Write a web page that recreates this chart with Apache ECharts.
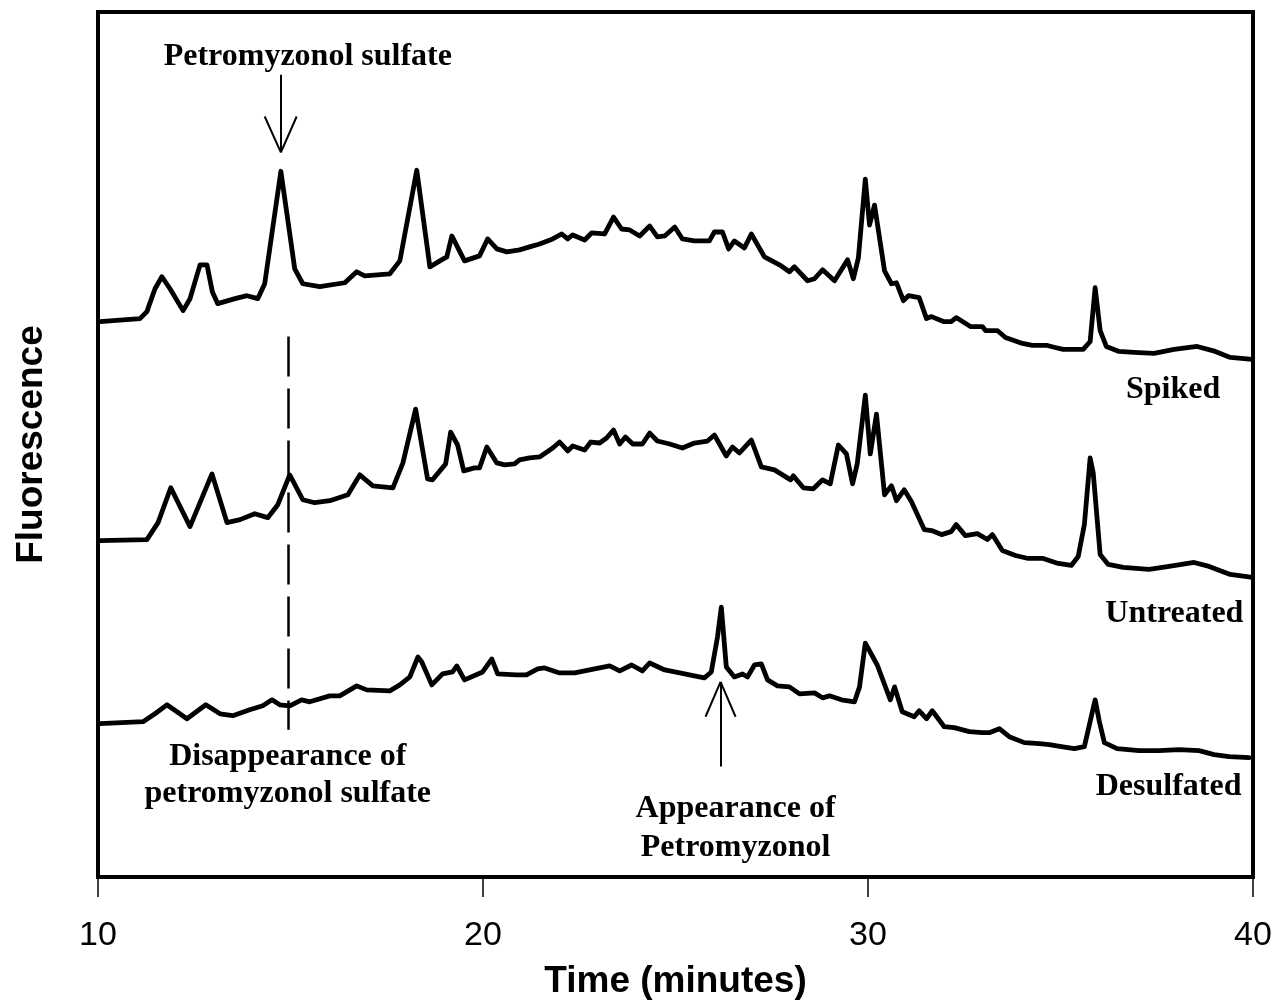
<!DOCTYPE html>
<html>
<head>
<meta charset="utf-8">
<script src="https://cdn.jsdelivr.net/npm/echarts@6/dist/echarts.min.js"></script>
<style>
  html, body { margin: 0; padding: 0; background: #fff; }
  #chart { width: 1283px; height: 1005px; }
</style>
</head>
<body>
<div id="chart"></div>
<script>
// ---------------- DATA (time in minutes, fluorescence in arbitrary units) ----------------
const xTicks = [10, 20, 30, 40];

const spiked = [
  [10.05,558],[11.09,561],[11.27,568],[11.48,591],[11.66,603],[11.87,591],[12.21,569],[12.39,581],
  [12.65,615],[12.83,615],[12.97,588],[13.11,576],[13.56,581],
  [13.87,584],[14.15,581],[14.33,596],[14.75,709],[15.11,611],[15.32,596],[15.76,593],[16.41,597],
  [16.72,608],[16.93,604],[17.58,606],[17.84,619],[18.28,710],[18.62,613],[18.88,619],[19.06,623],
  [19.19,644],[19.52,619],[19.91,624],[20.12,641],[20.36,631],[20.62,628],[20.95,630],[21.21,633],
  [21.47,636],[21.81,641],[22.04,646],[22.20,641],[22.33,645],[22.64,640],[22.82,647],[23.16,646],
  [23.39,663],[23.60,651],[23.81,650],[24.07,644],[24.33,654],[24.53,643],[24.72,644],[24.98,653],
  [25.18,641],[25.49,639],[25.88,639],[26.01,648],[26.22,648],[26.38,631],[26.53,639],[26.79,632],
  [26.97,646],[27.31,623],[27.70,615],[27.96,608],[28.09,613],[28.43,599],[28.61,601],[28.82,610],
  [29.13,599],[29.47,620],[29.62,601],[29.75,622],[29.93,701],[30.04,655],[30.17,675],[30.43,609],
  [30.61,596],[30.74,597],[30.92,579],[31.05,584],[31.33,582],[31.52,561],[31.65,563],[31.96,558],
  [32.16,558],[32.29,562],[32.66,553],[32.97,553],[33.05,549],[33.36,549],[33.57,542],[34.01,536],
  [34.27,534],[34.66,534],[34.86,532],[35.07,530],[35.59,530],[35.77,538],[35.90,592],[36.03,549],
  [36.19,533],[36.52,528],[36.91,527],[37.43,526],[37.95,530],[38.55,533],[39.02,528],[39.41,522],
  [39.98,520]
];

const untreated = [
  [10.05,338],[11.27,339],[11.56,356],[11.89,391],[12.39,352],[12.96,405],[13.35,356],[13.69,359],
  [14.07,365],[14.41,361],[14.67,374],[14.98,404],[15.32,379],[15.63,376],[16.02,378],[16.49,384],
  [16.80,404],[17.14,393],[17.66,391],[17.92,416],[18.25,470],[18.56,400],[18.69,399],[18.88,408],
  [19.03,415],[19.16,447],[19.34,434],[19.50,408],[19.78,411],[19.91,411],[20.10,432],[20.36,416],
  [20.56,414],[20.82,415],[20.95,419],[21.21,421],[21.47,422],[21.81,431],[21.99,437],[22.20,428],
  [22.33,433],[22.64,429],[22.80,437],[23.03,436],[23.21,441],[23.39,449],[23.55,435],[23.70,442],
  [23.89,435],[24.14,435],[24.33,446],[24.53,438],[24.85,435],[25.18,431],[25.49,436],[25.83,438],
  [26.01,444],[26.32,423],[26.48,432],[26.66,426],[26.97,439],[27.23,412],[27.57,409],[27.99,399],
  [28.06,403],[28.32,391],[28.58,390],[28.82,399],[29.02,395],[29.23,434],[29.44,425],[29.60,395],
  [29.72,415],[29.93,484],[30.06,425],[30.22,465],[30.43,384],[30.61,393],[30.74,378],[30.94,389],
  [31.13,377],[31.46,349],[31.65,348],[31.91,344],[32.16,347],[32.29,354],[32.53,343],[32.84,345],
  [33.10,339],[33.23,344],[33.49,328],[33.83,323],[34.16,320],[34.55,320],[34.94,315],[35.28,313],
  [35.46,322],[35.62,354],[35.77,421],[35.85,406],[36.03,324],[36.24,314],[36.63,311],[37.30,309],
  [37.82,312],[38.47,316],[38.86,312],[39.41,304],[39.98,301]
];

const desulfated = [
  [10.05,154],[11.17,156],[11.48,164],[11.79,173],[12.31,159],[12.80,173],[13.17,164],[13.50,162],
  [13.94,168],[14.28,172],[14.52,178],[14.72,173],[14.98,172],[15.29,178],[15.50,176],[16.02,182],
  [16.28,182],[16.72,192],[16.98,188],[17.58,187],[17.84,193],[18.10,201],[18.31,221],[18.41,216],
  [18.67,193],[18.95,204],[19.21,206],[19.32,212],[19.52,198],[19.99,206],[20.23,219],[20.38,204],
  [20.87,203],[21.13,203],[21.42,209],[21.60,210],[21.99,205],[22.38,205],[22.77,208],[22.90,209],
  [23.29,212],[23.55,207],[23.86,213],[24.14,207],[24.33,215],[24.72,208],[25.11,205],[25.49,202],
  [25.75,200],[25.93,206],[26.09,241],[26.19,271],[26.32,211],[26.53,201],[26.74,204],[26.87,201],
  [27.05,213],[27.23,214],[27.39,198],[27.65,192],[27.96,191],[28.22,184],[28.61,185],[28.82,180],
  [29.00,182],[29.31,178],[29.65,176],[29.78,191],[29.93,235],[30.24,213],[30.58,178],[30.69,191],
  [30.89,166],[31.20,161],[31.33,167],[31.52,159],[31.67,167],[31.98,151],[32.24,150],[32.63,146],
  [32.97,145],[33.15,145],[33.41,149],[33.67,141],[34.06,135],[34.45,134],[34.71,133],[35.02,131],
  [35.36,129],[35.62,131],[35.90,178],[36.01,156],[36.14,135],[36.47,129],[37.04,127],[37.56,127],
  [38.08,128],[38.60,127],[38.99,123],[39.38,121],[39.90,120]
];

// annotation anchors in data coordinates
const dashedLine = [[14.93,543],[14.93,148]];
const downArrow = { shaft: [[14.75,806],[14.75,728]], left: [14.33,764], right: [15.16,764] };
const upArrow   = { shaft: [[26.17,111],[26.17,196]], left: [25.78,161], right: [26.56,161] };

const annotations = [
  { text: 'Petromyzonol sulfate', at: [15.45,824], align: 'center' },
  { text: 'Disappearance of',     at: [14.93,121], align: 'center' },
  { text: 'petromyzonol sulfate', at: [14.93,84],  align: 'center' },
  { text: 'Appearance of',        at: [26.56,69],  align: 'center' },
  { text: 'Petromyzonol',         at: [26.56,29],  align: 'center' },
  { text: 'Spiked',               at: [39.15,490], align: 'right' },
  { text: 'Untreated',            at: [39.75,264], align: 'right' },
  { text: 'Desulfated',           at: [39.70,91],  align: 'right' }
];

// ---------------- CHART ----------------
const chart = echarts.init(document.getElementById('chart'), null, { renderer: 'canvas' });
const serif = '"Liberation Serif","Times New Roman",serif';
const sans = '"Liberation Sans",Arial,sans-serif';

function traceSeries(name, data) {
  return {
    name, type: 'line', data, showSymbol: false, symbol: 'none', smooth: false,
    lineStyle: { color: '#000', width: 4.8, join: 'round', cap: 'round' },
    silent: true, animation: false, z: 3
  };
}

const annotLines = {
  type: 'line', data: [], silent: true, animation: false,
  markLine: {
    symbol: ['none','none'], silent: true, animation: false,
    label: { show: false },
    lineStyle: { color: '#000', width: 2, type: 'solid' },
    data: [
      [{ coord: dashedLine[0], lineStyle: { type: [40,12], width: 2.5 } }, { coord: dashedLine[1] }],
      [{ coord: downArrow.shaft[0] }, { coord: downArrow.shaft[1] }],
      [{ coord: downArrow.left }, { coord: downArrow.shaft[1] }],
      [{ coord: downArrow.right }, { coord: downArrow.shaft[1] }],
      [{ coord: upArrow.shaft[0] }, { coord: upArrow.shaft[1] }],
      [{ coord: upArrow.left }, { coord: upArrow.shaft[1] }],
      [{ coord: upArrow.right }, { coord: upArrow.shaft[1] }]
    ]
  }
};

chart.setOption({
  animation: false,
  backgroundColor: '#fff',
  grid: { left: 98, right: 30, top: 12, bottom: 124, show: true, borderColor: '#000', borderWidth: 4 },
  xAxis: {
    type: 'value', min: 10, max: 40, interval: 10,
    name: 'Time (minutes)', nameLocation: 'middle', nameGap: 86,
    nameTextStyle: { fontFamily: sans, fontWeight: 'bold', fontSize: 37, color: '#000' },
    axisLine: { show: true, lineStyle: { color: '#000', width: 4 } },
    axisTick: { show: true, length: 20, lineStyle: { color: '#000', width: 1.5 } },
    axisLabel: { fontFamily: sans, fontSize: 34, color: '#000', margin: 42 },
    splitLine: { show: false }
  },
  yAxis: {
    type: 'value', min: 0, max: 869,
    name: 'Fluorescence', nameLocation: 'middle', nameGap: 48, nameRotate: 90,
    nameTextStyle: { fontFamily: sans, fontWeight: 'bold', fontSize: 37, color: '#000' },
    axisLine: { show: true, lineStyle: { color: '#000', width: 4 } },
    axisTick: { show: false }, axisLabel: { show: false }, splitLine: { show: false }
  },
  series: [
    traceSeries('Spiked', spiked),
    traceSeries('Untreated', untreated),
    traceSeries('Desulfated', desulfated),
    annotLines
  ]
});

const graphics = annotations.map(a => {
  const p = chart.convertToPixel({ gridIndex: 0 }, a.at);
  return {
    type: 'text', x: p[0], y: p[1], silent: true,
    style: {
      text: a.text, fill: '#000', font: 'bold 32px ' + serif,
      textAlign: a.align, textVerticalAlign: 'middle'
    },
    z: 10
  };
});
chart.setOption({ graphic: graphics });
</script>
</body>
</html>
